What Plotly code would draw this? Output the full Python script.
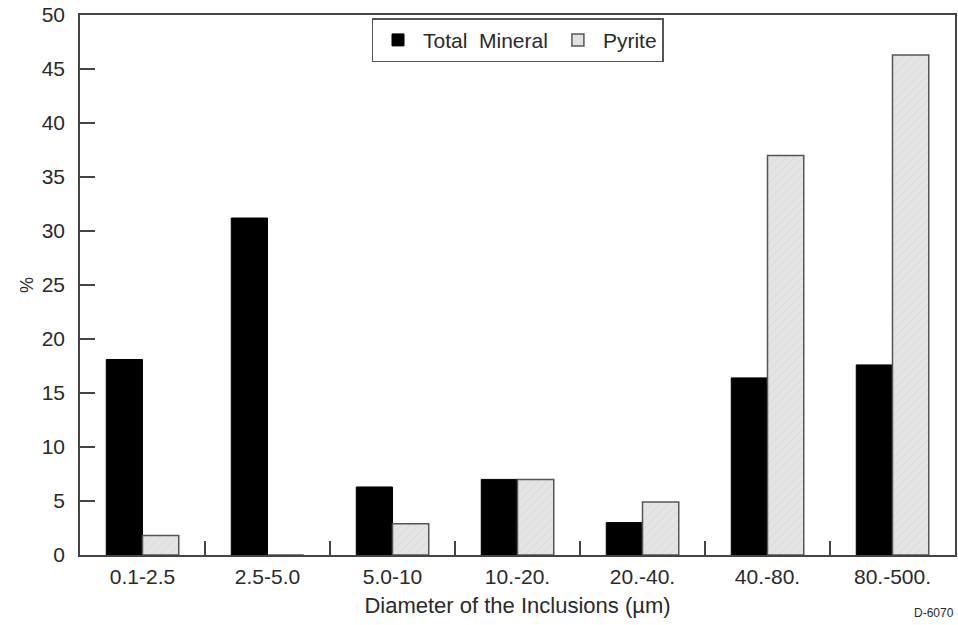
import plotly.graph_objects as go

# Size classes of the inclusions and percentage distributions
categories = ["0.1-2.5", "2.5-5.0", "5.0-10", "10.-20.", "20.-40.", "40.-80.", "80.-500."]
total_mineral = [18.1, 31.2, 6.3, 7.0, 3.0, 16.4, 17.6]
pyrite = [1.8, 0.0, 2.9, 7.0, 4.9, 37.0, 46.3]
y_ticks = [0, 5, 10, 15, 20, 25, 30, 35, 40, 45, 50]

font_family = "Liberation Sans, Arial, Helvetica, sans-serif"
ink = "#2a2a2a"

fig = go.Figure()
fig.add_trace(go.Bar(
    x=categories, y=total_mineral, name="Total  Mineral",
    marker=dict(color="#000000", line=dict(color="#000000", width=1)),
))
fig.add_trace(go.Bar(
    x=categories, y=pyrite, name="Pyrite",
    marker=dict(
        color="#e4e4e4",
        line=dict(color="#555555", width=1.5),
        pattern=dict(shape="/", fgcolor="#c8c8c8", bgcolor="#e4e4e4", size=6, solidity=0.15),
    ),
))

fig.update_layout(
    width=958, height=625,
    margin=dict(l=80, r=3, t=15, b=70),
    paper_bgcolor="white", plot_bgcolor="white",
    barmode="group", bargap=0.42, bargroupgap=0.0,
    font=dict(family=font_family, color=ink, size=20),
    showlegend=True,
    legend=dict(
        orientation="h", x=0.5, xanchor="center", y=0.994, yanchor="top",
        bordercolor="#555555", borderwidth=1.5, bgcolor="white",
        font=dict(size=21, family=font_family, color=ink),
        itemwidth=40, traceorder="normal",
    ),
    xaxis=dict(
        type="category", showline=True, linecolor="#444444", linewidth=1.5,
        mirror=True, ticks="inside", tickson="boundaries", ticklen=14,
        tickcolor="#444444", tickwidth=1.5, showgrid=False,
        ticklabelstandoff=2, automargin=False,
        tickfont=dict(size=21, family=font_family, color=ink),
        title=dict(text="Diameter of the Inclusions (µm)", standoff=11,
                   font=dict(size=22, family=font_family, color=ink)),
    ),
    yaxis=dict(
        range=[0, 50], tickvals=y_ticks, showline=True, linecolor="#444444",
        linewidth=1.5, mirror=True, ticks="inside", ticklen=15,
        tickcolor="#444444", tickwidth=1.5, showgrid=False, zeroline=False,
        ticklabelstandoff=9, automargin=False,
        tickfont=dict(size=21, family=font_family, color=ink),
        title=dict(text="%", standoff=3,
                   font=dict(size=18, family=font_family, color=ink)),
    ),
    annotations=[dict(
        text="D-6070", x=0.976, y=-0.108, xref="paper", yref="paper",
        xanchor="center", yanchor="middle", showarrow=False,
        font=dict(size=12, family=font_family, color=ink),
    )],
)

fig.write_html("out.html")
